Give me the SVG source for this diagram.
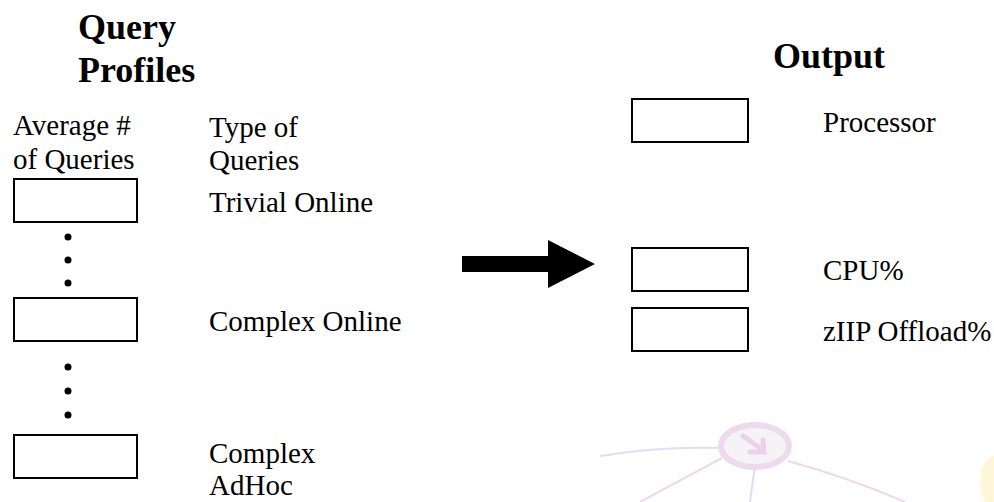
<svg xmlns="http://www.w3.org/2000/svg" width="994" height="502" viewBox="0 0 994 502">
<style>
  text { font-family: "Liberation Serif", "Times New Roman", serif; fill: #000; }
  .h { font-size: 36px; font-weight: bold; }
  .t { font-size: 29px; }
  .box { fill: #fff; stroke: #000; stroke-width: 2; }
  .dot { fill: #000; }
  .wm { fill: none; stroke-width: 2; }
</style>
<rect width="994" height="502" fill="#fff"/>
<g id="watermark" opacity="0.9">
  <path class="wm" d="M600,456 Q660,446 722,448" stroke="#dcdcf0"/>
  <path class="wm" d="M722,458 L640,502" stroke="#ead4ea"/>
  <path class="wm" d="M755,465 L750,502" stroke="#ead4ea"/>
  <path class="wm" d="M788,461 Q850,478 905,502" stroke="#ead4ea"/>
  <ellipse cx="755" cy="446" rx="34" ry="21" fill="#f6f2f6" stroke="#ecd6ec" stroke-width="6"/>
  <path d="M743,436 L760,448 M763,440 L764,452 L750,452" fill="none" stroke="#e8cfe8" stroke-width="5" stroke-linecap="round"/>
  <ellipse cx="994" cy="482" rx="14" ry="26" fill="#fff6d6"/>
</g>
<g id="title-query">
  <text class="h" x="78" y="39">Query</text>
  <text class="h" x="78" y="82">Profiles</text>
</g>
<g id="title-output">
  <text class="h" x="773" y="68">Output</text>
</g>
<g id="col-headers">
  <text class="t" x="13" y="135">Average #</text>
  <text class="t" x="13" y="169">of Queries</text>
  <text class="t" x="209" y="137">Type of</text>
  <text class="t" x="209" y="170">Queries</text>
</g>
<g id="trivial-online">
  <rect class="box" x="14" y="179" width="123" height="43"/>
  <text class="t" x="209" y="212">Trivial Online</text>
</g>
<g id="dots-1">
  <circle class="dot" cx="68" cy="237" r="3.5"/>
  <circle class="dot" cx="68" cy="260" r="3.5"/>
  <circle class="dot" cx="68" cy="283" r="3.5"/>
</g>
<g id="complex-online">
  <rect class="box" x="14" y="298" width="123" height="43"/>
  <text class="t" x="209" y="331">Complex Online</text>
</g>
<g id="dots-2">
  <circle class="dot" cx="68" cy="367" r="3.5"/>
  <circle class="dot" cx="68" cy="391" r="3.5"/>
  <circle class="dot" cx="68" cy="415" r="3.5"/>
</g>
<g id="complex-adhoc">
  <rect class="box" x="14" y="435" width="123" height="43"/>
  <text class="t" x="209" y="463">Complex</text>
  <text class="t" x="209" y="495">AdHoc</text>
</g>
<g id="connectors">
  <polygon points="462,256 548,256 548,240 595,264 548,288 548,272 462,272" fill="#000"/>
</g>
<g id="processor">
  <rect class="box" x="632" y="99" width="116" height="43"/>
  <text class="t" x="823" y="132">Processor</text>
</g>
<g id="cpu">
  <rect class="box" x="632" y="248" width="116" height="43"/>
  <text class="t" x="823" y="280">CPU%</text>
</g>
<g id="ziip">
  <rect class="box" x="632" y="308" width="116" height="43"/>
  <text class="t" x="823" y="341">zIIP Offload%</text>
</g>
</svg>
